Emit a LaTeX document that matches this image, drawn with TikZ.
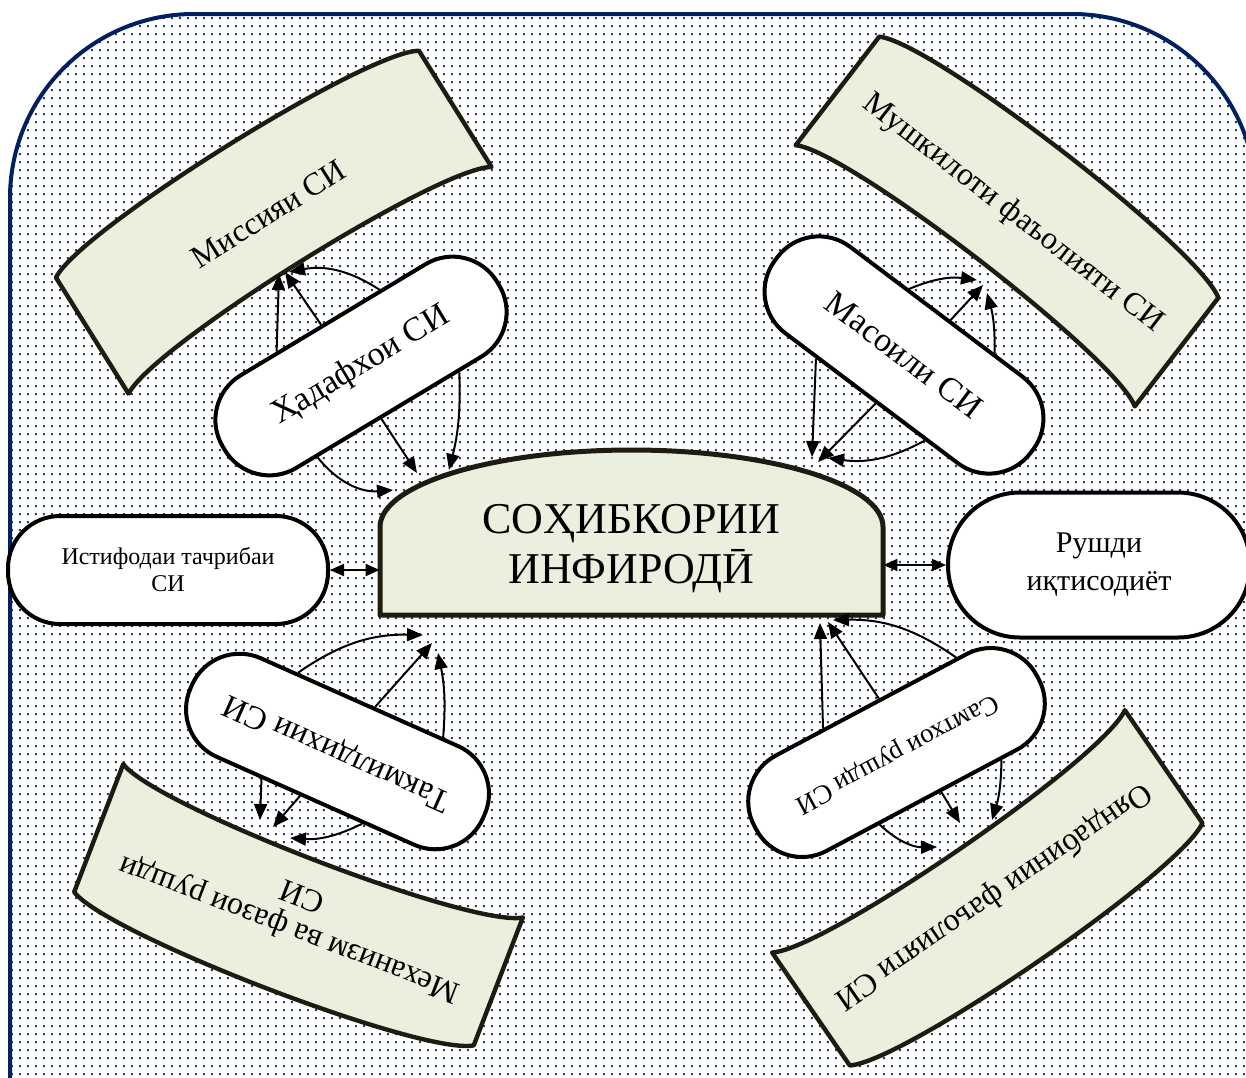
\documentclass[tikz,border=0pt]{standalone}
\usepackage{fontspec}
\setmainfont{Liberation Serif}
\usetikzlibrary{arrows.meta,calc,patterns}

\definecolor{framenavy}{RGB}{0,32,96}
\definecolor{dotblue}{RGB}{40,62,108}
\definecolor{bannerfill}{RGB}{235,239,222}
\definecolor{bannerline}{RGB}{30,27,16}

\pgfdeclarepatternformonly{sidots}{\pgfqpoint{0pt}{0pt}}{\pgfqpoint{4.2pt}{4.2pt}}{\pgfqpoint{4.2pt}{4.2pt}}{%
  \pgfpathrectangle{\pgfqpoint{1.6pt}{1.6pt}}{\pgfqpoint{1pt}{1pt}}\pgfusepath{fill}}

\tikzset{
  pill/.style={draw, line width=2pt, fill=white, rounded corners=26pt,
    minimum width=160pt, minimum height=54pt, inner sep=1pt, align=center},
  ribbon/.style={draw=bannerline, line width=2.2pt, fill=bannerfill, line join=round},
  ribbontext/.style={font=\fontsize{16}{18}\selectfont, align=center, transform shape},
  link/.style={-{Triangle[length=8pt,width=6.5pt]}, line width=1pt},
  twoway/.style={{Triangle[length=7pt,width=6pt]}-{Triangle[length=7pt,width=6pt]}, line width=1pt},
}

\begin{document}
\begin{tikzpicture}[x=0.5pt, y=-0.5pt]
\useasboundingbox (0,0) rectangle (1246,1077);
\clip (0,0) rectangle (1246,1077);

% dotted frame
\draw[line width=2pt, draw=framenavy, pattern=sidots, pattern color=dotblue, rounded corners=92pt]
  (10,14) rectangle (1256,1300);

% ribbons round the picture
\foreach \cx/\cy/\ang/\nm/\txt in {273.75/222.25/32/missia/{Миссияи СИ},
    1007/221.5/-37.6/mushkil/{Мушкилоти фаъолияти СИ},
    298.5/904.75/159/mexan/{Механизм ва фазои рушди\\СИ},
    987.25/887.75/214.5/oyanda/{Ояндабинии фаъолияти СИ}}{
  \begin{scope}[shift={(\cx,\cy)}, rotate=\ang, x=0.5pt, y=0.5pt]
    \draw[ribbon] (-214,-68.5) -- (-214,68.5)
      .. controls (-169,96.5) and (169,96.5) .. (214,68.5) -- (214,-68.5)
      .. controls (169,-40.5) and (-169,-40.5) .. cycle;
    \node[ribbontext] (\nm) at (0,10) {\txt};
  \end{scope}
}

% centre
\draw[ribbon, line width=2.5pt] (380,615) -- (380,527)
  arc[start angle=180, end angle=0, x radius=125.75pt, y radius=38.5pt] -- (883,615) -- cycle;
\node[font=\fontsize{22}{25}\selectfont, align=center, minimum width=251.5pt] (sohib) at (631.5,549)
  {СОҲИБКОРИИ\\ИНФИРОДӢ};

% pills
\node[pill, rotate=31, font=\fontsize{17}{20}\selectfont] (hadaf) at (361,366) {Ҳадафхои СИ};
\node[pill, rotate=-37, font=\fontsize{17}{20}\selectfont] (masoil) at (904,355) {Масоили СИ};
\node[pill, rotate=156, font=\fontsize{16.5}{20}\selectfont] (takmil) at (337.5,751.5) {Такмилдихии СИ};
\node[pill, rotate=208, font=\fontsize{13.5}{16}\selectfont] (samt) at (896.5,752.5) {Самтхои рушди СИ};
\node[pill, font=\fontsize{12}{13.5}\selectfont] (istif) at (168,570) {Истифодаи тачрибаи\\СИ};
\node[pill, minimum width=151pt, minimum height=72.5pt, rounded corners=36pt,
  font=\fontsize{15}{19}\selectfont] (rushd) at (1099,565) {Рушди\\иқтисодиёт};

% arrow ends
\coordinate (tm1) at (279,274);
\coordinate (tm2) at (285,272);
\coordinate (tm3) at (289,272);
\coordinate (tc1) at (417,473);
\coordinate (tc2) at (449,470);
\coordinate (tc3) at (393,490);
\coordinate (tu1) at (977,280);
\coordinate (tu2) at (983,285);
\coordinate (tu3) at (987,293);
\coordinate (td1) at (812,457);
\coordinate (td2) at (818,462);
\coordinate (td3) at (828,458);
\coordinate (te1) at (423,635);
\coordinate (te2) at (432,643);
\coordinate (te3) at (438,653);
\coordinate (tf1) at (260,820);
\coordinate (tf2) at (273,827);
\coordinate (tf3) at (290,838);
\coordinate (tg1) at (820,623);
\coordinate (tg2) at (828,622);
\coordinate (tg3) at (833,620);
\coordinate (th1) at (960,823);
\coordinate (th2) at (992,820);
\coordinate (th3) at (937,847);

% arrows
\draw[link] ($(hadaf.north west)!0.30!(hadaf.north east)$) -- (tm1);
\draw[link] ($(hadaf.north west)!0.46!(hadaf.north east)$) -- (tm2);
\draw[link] ($(hadaf.north west)!0.67!(hadaf.north east)$) to[bend right=22] (tm3);
\draw[link] ($(hadaf.south west)!0.47!(hadaf.south east)$) -- (tc1);
\draw[link] ($(hadaf.south west)!0.75!(hadaf.south east)$) to[bend left=8] (tc2);
\draw[link] ($(hadaf.south west)!0.24!(hadaf.south east)$) to[bend right=28] (tc3);

\draw[link] ($(masoil.north west)!0.39!(masoil.north east)$) to[bend left=15] (tu1);
\draw[link] ($(masoil.north west)!0.55!(masoil.north east)$) -- (tu2);
\draw[link] ($(masoil.north west)!0.72!(masoil.north east)$) to[bend right=8] (tu3);
\draw[link] ($(masoil.south west)!0.29!(masoil.south east)$) -- (td1);
\draw[link] ($(masoil.south west)!0.52!(masoil.south east)$) -- (td2);
\draw[link] ($(masoil.south west)!0.71!(masoil.south east)$) to[bend left=18] (td3);

\draw[link] ($(takmil.south west)!0.71!(takmil.south east)$) to[bend left=18] (te1);
\draw[link] ($(takmil.south west)!0.45!(takmil.south east)$) -- (te2);
\draw[link] ($(takmil.south west)!0.22!(takmil.south east)$) to[bend right=8] (te3);
\draw[link] ($(takmil.north west)!0.68!(takmil.north east)$) -- (tf1);
\draw[link] ($(takmil.north west)!0.55!(takmil.north east)$) -- (tf2);
\draw[link] ($(takmil.north west)!0.34!(takmil.north east)$) to[bend left=15] (tf3);

\draw[link] ($(samt.south west)!0.665!(samt.south east)$) -- (tg1);
\draw[link] ($(samt.south west)!0.47!(samt.south east)$) -- (tg2);
\draw[link] ($(samt.south west)!0.20!(samt.south east)$) to[bend right=18] (tg3);
\draw[link] ($(samt.north west)!0.435!(samt.north east)$) -- (th1);
\draw[link] ($(samt.north west)!0.225!(samt.north east)$) to[bend left=8] (th2);
\draw[link] ($(samt.north west)!0.65!(samt.north east)$) to[bend right=22] (th3);

\draw[twoway] (istif.east) -- (istif.east -| sohib.west);
\draw[twoway] (sohib.east |- rushd.west) -- (rushd.west);
\end{tikzpicture}
\end{document}
